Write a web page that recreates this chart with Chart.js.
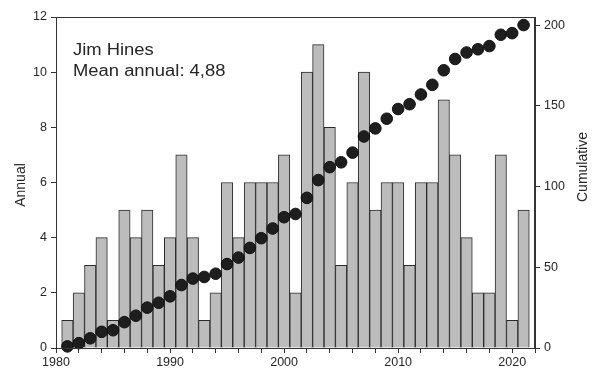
<!DOCTYPE html>
<html>
<head>
<meta charset="utf-8">
<script src="https://cdn.jsdelivr.net/npm/chart.js@4.4.1/dist/chart.umd.min.js"></script>
<style>
  html, body { margin:0; padding:0; background:#fff; }
  #wrap { width:596px; height:371px; }
</style>
</head>
<body>
<div id="wrap"><canvas id="c" width="596" height="371"></canvas></div>
<script>
// ── DATA ─────────────────────────────
const years = [1981,1982,1983,1984,1985,1986,1987,1988,1989,1990,
               1991,1992,1993,1994,1995,1996,1997,1998,1999,2000,
               2001,2002,2003,2004,2005,2006,2007,2008,2009,2010,
               2011,2012,2013,2014,2015,2016,2017,2018,2019,2020,2021];
const annual = [1,2,3,4,1,5,4,5,3,4,
                7,4,1,2,6,4,6,6,6,7,
                2,10,11,8,3,6,10,5,6,6,
                3,6,6,9,7,4,2,2,7,1,5];
const cumulative = [1,3,6,10,11,16,20,25,28,32,
                    39,43,44,46,52,56,62,68,74,81,
                    83,93,104,112,115,121,131,136,142,148,
                    151,157,163,172,179,183,185,187,194,195,200];
const leftTicks  = [0,2,4,6,8,10,12];
const rightTicks = [0,50,100,150,200];
const labelLines = ['Jim Hines', 'Mean annual: 4,88'];

const FONT = "'Liberation Sans', Arial, sans-serif";
const INK  = '#262626';

// ── PLUGINS ─────────────────────────
const frame = {
  id:'frame',
  afterDatasetsDraw(chart){
    const {ctx, chartArea:a} = chart;
    ctx.save();
    ctx.strokeStyle = '#333';
    ctx.lineWidth = 1;
    ctx.strokeRect(a.left+0.5, a.top+0.5, a.right-a.left-1, a.bottom-a.top);
    ctx.restore();
  }
};

const texts = {
  id:'texts',
  afterDraw(chart){
    const {ctx} = chart;
    ctx.save();
    ctx.fillStyle = INK;
    // annotation, slightly wide like the scanned original
    ctx.font = `16px ${FONT}`;
    ctx.textBaseline = 'alphabetic';
    labelLines.forEach((t,i) => {
      ctx.save();
      ctx.translate(73, 55 + i*21);
      ctx.scale(1.15, 1);
      ctx.fillText(t, 0, 0);
      ctx.restore();
    });
    // axis titles, both read bottom to top
    ctx.font = `14px ${FONT}`;
    ctx.textAlign = 'center';
    ctx.textBaseline = 'middle';
    [['Annual', 21, 185], ['Cumulative', 583, 167]].forEach(([t,x,y]) => {
      ctx.save();
      ctx.translate(x, y);
      ctx.rotate(-Math.PI/2);
      ctx.fillText(t, 0, 0);
      ctx.restore();
    });
    ctx.restore();
  }
};

const tickFont = {family:FONT, size:12.5};

new Chart(document.getElementById('c'), {
  type:'bar',
  data:{
    datasets:[
      {
        type:'line',
        data: years.map((y,i) => ({x:y, y:cumulative[i]})),
        yAxisID:'y1',
        showLine:false,
        pointRadius:5.8,
        pointBackgroundColor:'#1e1e1e',
        pointBorderColor:'#111',
        pointBorderWidth:1,
        clip:false,
        order:0
      },
      {
        data: years.map((y,i) => ({x:y, y:annual[i]})),
        yAxisID:'y',
        backgroundColor:'#bcbcbc',
        borderColor:'#2a2a2a',
        borderWidth:1,
        categoryPercentage:1,
        barPercentage:1,
        order:1
      }
    ]
  },
  options:{
    responsive:false,
    animation:false,
    layout:{padding:{top:17, left:0, right:0, bottom:0}},
    plugins:{legend:{display:false}, tooltip:{enabled:false}},
    scales:{
      x:{
        type:'linear', min:1980, max:2022, offset:false,
        grid:{drawOnChartArea:false, tickLength:5, color:'#333', offset:false},
        border:{color:'#333'},
        ticks:{stepSize:2, autoSkip:false, maxRotation:0, color:INK, font:tickFont, padding:2,
               callback:v => v % 10 === 0 ? String(v) : ''},
        afterFit:s => { s.height = 23; }
      },
      y:{
        position:'left', min:0, max:12,
        grid:{drawOnChartArea:false, tickLength:5, color:'#333'},
        border:{color:'#333'},
        afterBuildTicks:s => { s.ticks = leftTicks.map(v => ({value:v})); },
        ticks:{color:INK, font:tickFont, padding:4},
        afterFit:s => { s.width = 56; }
      },
      y1:{
        position:'right', min:0, max:205,
        grid:{drawOnChartArea:false, tickLength:5, color:'#333'},
        border:{color:'#333'},
        afterBuildTicks:s => { s.ticks = rightTicks.map(v => ({value:v})); },
        ticks:{color:INK, font:tickFont, padding:4},
        afterFit:s => { s.width = 61; }
      }
    }
  },
  plugins:[frame, texts]
});
</script>
</body>
</html>
